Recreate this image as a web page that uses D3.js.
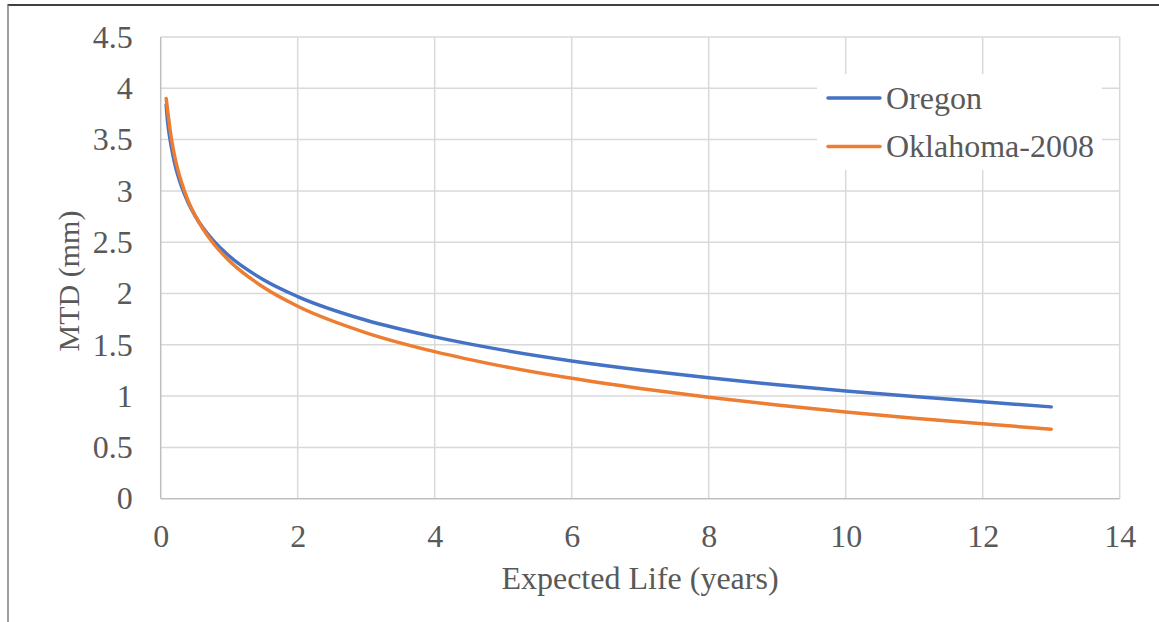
<!DOCTYPE html>
<html>
<head>
<meta charset="utf-8">
<script src="https://cdn.jsdelivr.net/npm/d3@7"></script>
<style>
  html, body { margin: 0; padding: 0; background: #fff; }
  svg text { font-family: "Liberation Serif", "Times New Roman", serif; fill: #595959; }
</style>
</head>
<body>
<svg id="chart" width="1159" height="622"></svg>
<script>
// ---- data ----
const years = [0.08, 0.1, 0.15, 0.2, 0.3, 0.4, 0.5, 0.75, 1, 1.5, 2, 3, 4, 5, 6, 7, 8, 9, 10, 11, 12, 13];
const oregon = [3.84, 3.68, 3.45, 3.28, 3.05, 2.887, 2.76, 2.53, 2.365, 2.134, 1.970, 1.739, 1.577, 1.448, 1.343, 1.255, 1.178, 1.111, 1.050, 0.995, 0.944, 0.895];
const oklahoma = [3.90, 3.79, 3.534, 3.35, 3.091, 2.906, 2.764, 2.504, 2.320, 2.061, 1.876, 1.617, 1.433, 1.290, 1.173, 1.075, 0.989, 0.914, 0.846, 0.785, 0.730, 0.678];
const seriesNames = ["Oregon", "Oklahoma-2008"];
const seriesColors = ["#4472C4", "#ED7D31"];
const xTicks = [0, 2, 4, 6, 8, 10, 12, 14];
const yTicks = [0, 0.5, 1, 1.5, 2, 2.5, 3, 3.5, 4, 4.5];
const xTitle = "Expected Life (years)";
const yTitle = "MTD (mm)";

(function () {
const svg = d3.select("#chart");

// outer frame lines
svg.append("line").attr("x1", 7.5).attr("x2", 1159).attr("y1", 5).attr("y2", 5)
  .attr("stroke", "#000").attr("stroke-width", 1.5);
svg.append("line").attr("x1", 8).attr("x2", 8).attr("y1", 5).attr("y2", 622)
  .attr("stroke", "#7f7f7f").attr("stroke-width", 1.5);

const pL = 160.7, pR = 1119.7, pT = 37, pB = 498.7;
const x = d3.scaleLinear().domain([0, 14]).range([pL, pR]);
const y = d3.scaleLinear().domain([0, 4.5]).range([pB, pT]);

// gridlines
const g = svg.append("g");
g.selectAll("line.gy").data(yTicks.filter(d => d > 0)).join("line")
  .attr("x1", pL).attr("x2", pR)
  .attr("y1", d => y(d)).attr("y2", d => y(d))
  .attr("stroke", "#D9D9D9").attr("stroke-width", 1.5);
g.selectAll("line.gx").data(xTicks.filter(d => d > 0)).join("line")
  .attr("y1", pT).attr("y2", pB)
  .attr("x1", d => x(d)).attr("x2", d => x(d))
  .attr("stroke", "#D9D9D9").attr("stroke-width", 1.5);
// axis lines
g.append("line").attr("x1", pL).attr("x2", pR).attr("y1", pB).attr("y2", pB)
  .attr("stroke", "#BFBFBF").attr("stroke-width", 1.5);
g.append("line").attr("x1", pL).attr("x2", pL).attr("y1", pT).attr("y2", pB)
  .attr("stroke", "#BFBFBF").attr("stroke-width", 1.5);

// tick labels via axes
const yAxis = svg.append("g").attr("transform", `translate(${pL},0)`)
  .call(d3.axisLeft(y).tickValues(yTicks).tickSize(0).tickPadding(28).tickFormat(d => String(d)));
yAxis.select(".domain").remove();
yAxis.selectAll("text").attr("font-size", 32).attr("font-family", "Liberation Serif").attr("fill", "#595959");

const xAxis = svg.append("g").attr("transform", `translate(0,${pB})`)
  .call(d3.axisBottom(x).tickValues(xTicks).tickSize(0).tickPadding(26).tickFormat(d => String(d)));
xAxis.select(".domain").remove();
xAxis.selectAll("text").attr("font-size", 32).attr("font-family", "Liberation Serif").attr("fill", "#595959");

// axis titles
svg.append("text").attr("x", 640).attr("y", 589).attr("text-anchor", "middle")
  .attr("font-size", 32).text(xTitle);
svg.append("text").attr("transform", "translate(79,281) rotate(-90)").attr("text-anchor", "middle")
  .attr("font-size", 30).text(yTitle);

// lines
const line = d3.line().x(d => x(d[0])).y(d => y(d[1])).curve(d3.curveMonotoneX);
const data = [oregon, oklahoma];
data.forEach((vals, i) => {
  svg.append("path")
    .datum(years.map((yr, j) => [yr, vals[j]]))
    .attr("d", line)
    .attr("fill", "none")
    .attr("stroke", seriesColors[i])
    .attr("stroke-width", 3.5)
    .attr("stroke-linecap", "round")
    .attr("stroke-linejoin", "round");
});

// legend
const lg = svg.append("g");
lg.append("rect").attr("x", 817).attr("y", 74).attr("width", 285).attr("height", 96).attr("fill", "#fff");
seriesNames.forEach((name, i) => {
  const cy = 98 + i * 48.5;
  lg.append("line").attr("x1", 828).attr("x2", 880).attr("y1", cy).attr("y2", cy)
    .attr("stroke", seriesColors[i]).attr("stroke-width", 3.5).attr("stroke-linecap", "round");
  lg.append("text").attr("x", 886).attr("y", cy + 10.5).attr("font-size", 32).text(name);
});
})();
</script>
</body>
</html>
